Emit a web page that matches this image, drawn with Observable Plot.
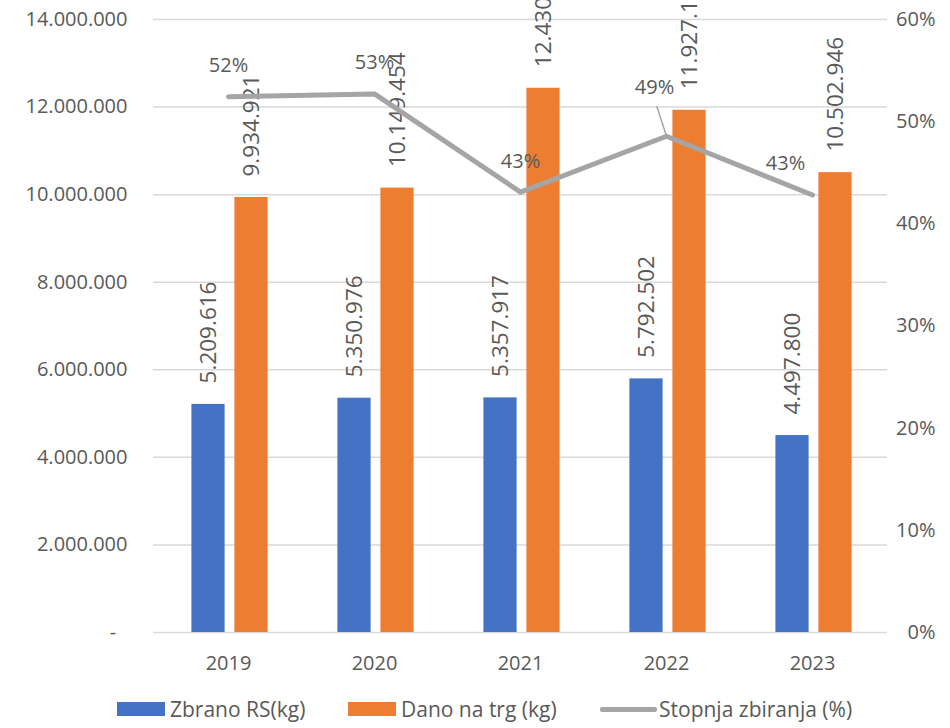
<!DOCTYPE html>
<html>
<head>
<meta charset="utf-8">
<script src="https://cdn.jsdelivr.net/npm/d3@7"></script>
<script src="https://cdn.jsdelivr.net/npm/@observablehq/plot@0.6"></script>
<style>
  body { margin: 0; background: #fff; font-family: "Open Sans", sans-serif; color: #595959; }
  #chart { width: 950px; height: 690px; }
  #legend { position: relative; height: 38px; font-size: 21px; color: #595959; white-space: nowrap; }
  .item { position: absolute; top: 0; height: 38px; display: flex; align-items: center; }
  .sw { display: inline-block; width: 48px; height: 14px; margin-right: 5px; }
  .ln { display: inline-block; width: 57px; height: 5px; background: #a5a5a5; margin-right: 2px; border-radius: 2px; }
</style>
</head>
<body>
<div id="chart"></div>
<div id="legend">
  <div class="item" style="left:117px"><span class="sw" style="background:#4472C4"></span><span>Zbrano RS(kg)</span></div>
  <div class="item" style="left:348px"><span class="sw" style="background:#ED7D31"></span><span>Dano na trg (kg)</span></div>
  <div class="item" style="left:600px"><span class="ln"></span><span>Stopnja zbiranja (%)</span></div>
</div>
<script>
const years = ["2019", "2020", "2021", "2022", "2023"];
const collected = [5209616, 5350976, 5357917, 5792502, 4497800];
const placed = [9934921, 10149454, 12430512, 11927153, 10502946];
const rates = [0.5244, 0.5272, 0.4310, 0.4857, 0.4282];
const leftTicks = [0, 2000000, 4000000, 6000000, 8000000, 10000000, 12000000, 14000000];
const rightTicks = [0, 0.1, 0.2, 0.3, 0.4, 0.5, 0.6];
const Y_MAX = 14000000;
const PCT_MAX = 0.6;

const rows = years.map((year, i) => ({ year, collected: collected[i], placed: placed[i], rate: rates[i], i }));
const loc = d3.formatLocale({ decimal: ",", thousands: ".", grouping: [3], currency: ["", " €"] });
const fmt = loc.format(",d");
const toLeft = p => p * Y_MAX / PCT_MAX;

const textColor = "#595959";
const gridColor = "#d9d9d9";

const chart = Plot.plot({
  width: 950,
  height: 690,
  marginTop: 19,
  marginBottom: 58,
  marginLeft: 153,
  marginRight: 63,
  style: { fontFamily: "Open Sans, sans-serif", color: textColor, background: "#fff", overflow: "visible" },
  x: { type: "band", domain: years, padding: 0, label: null },
  y: { domain: [0, Y_MAX], label: null },
  marks: [
    Plot.gridY(leftTicks, { stroke: gridColor, strokeOpacity: 1, strokeWidth: 1.5 }),
    Plot.axisY(leftTicks, {
      anchor: "left", tickSize: 0, tickPadding: 26, fontSize: 20, fill: textColor, label: null,
      tickFormat: d => d === 0 ? "-\u2007" : fmt(d)
    }),
    Plot.axisY(rightTicks.map(toLeft), {
      anchor: "right", tickSize: 0, tickPadding: 48, fontSize: 20, fill: textColor, label: null,
      textAnchor: "end",
      tickFormat: d => Math.round(d / Y_MAX * PCT_MAX * 100) + "%"
    }),
    Plot.axisX({ tickSize: 0, tickPadding: 23, fontSize: 20, fill: textColor, label: null }),
    Plot.barY(rows, { x: "year", y: "collected", fill: "#4472C4", insetLeft: 56.4, insetRight: 56.4, dx: -20 }),
    Plot.barY(rows, { x: "year", y: "placed", fill: "#ED7D31", insetLeft: 56.4, insetRight: 56.4, dx: 23 }),
    Plot.text(rows, { x: "year", y: "collected", text: d => fmt(d.collected), rotate: -90, textAnchor: "start", dx: -20, dy: -21, fontSize: 22.5, fill: textColor }),
    Plot.text(rows, { x: "year", y: "placed", text: d => fmt(d.placed), rotate: -90, textAnchor: "start", dx: 23, dy: -21, fontSize: 22.5, fill: textColor }),
    Plot.line(rows, { x: "year", y: d => toLeft(d.rate), stroke: "#a5a5a5", strokeWidth: 5, strokeLinecap: "round", strokeLinejoin: "round" }),
    Plot.vector(rows.filter(d => d.i === 3), {
      x: "year", y: d => toLeft(d.rate), length: 31, rotate: -18, anchor: "start",
      stroke: "#a5a5a5", strokeWidth: 1.5,
      shape: { draw(context, l) { context.moveTo(0, 0); context.lineTo(0, -l); } }
    }),
    Plot.text(rows.filter(d => d.i < 3), { x: "year", y: d => toLeft(d.rate), text: d => Math.round(d.rate * 100) + "%", dy: -31, fontSize: 20, fill: textColor }),
    Plot.text(rows.filter(d => d.i === 3), { x: "year", y: d => toLeft(d.rate), text: d => Math.round(d.rate * 100) + "%", dx: -12, dy: -49, fontSize: 20, fill: textColor }),
    Plot.text(rows.filter(d => d.i === 4), { x: "year", y: d => toLeft(d.rate), text: d => Math.round(d.rate * 100) + "%", dx: -27, dy: -31, fontSize: 20, fill: textColor })
  ]
});
document.getElementById("chart").appendChild(chart);
</script>
</body>
</html>
